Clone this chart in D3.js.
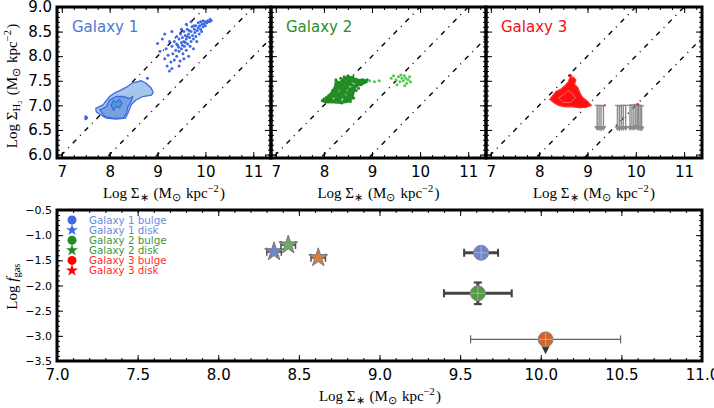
<!DOCTYPE html>
<html><head><meta charset="utf-8">
<script src="https://cdn.jsdelivr.net/npm/d3@7"></script>
<style>body{margin:0;background:#fff}</style>
</head><body><svg id="c" width="714" height="408"></svg>
<script>
// ---------------- DATA ----------------
const panelNames = ["Galaxy 1", "Galaxy 2", "Galaxy 3"];
const xTicksTop = [7, 8, 9, 10, 11];
const yTicksTop = [6.0, 6.5, 7.0, 7.5, 8.0, 8.5, 9.0];
const xTicksBottom = [7.0, 7.5, 8.0, 8.5, 9.0, 9.5, 10.0, 10.5, 11.0];
const yTicksBottom = [-3.5, -3.0, -2.5, -2.0, -1.5, -1.0, -0.5];
const depletionOffsets = [1, 2, 3]; // lines: y = x - offset

// Galaxy 1 scatter points
const g1Points = [[9.0,8.26],[9.05,8.1],[9.1,8.35],[9.15,7.95],[9.18,8.15],[9.2,7.8],[9.22,8.02],[9.25,7.7],[9.28,7.88],[9.3,8.2],[9.3,7.75],[9.32,8.05],[9.35,8.3],[9.35,7.92],[9.38,8.12],[9.4,8.4],[9.4,8.0],[9.42,8.22],[9.45,8.35],[9.45,8.1],[9.47,7.9],[9.48,8.45],[9.5,8.28],[9.5,8.15],[9.52,8.38],[9.53,8.05],[9.55,8.5],[9.55,8.3],[9.56,8.2],[9.58,8.42],[9.6,8.35],[9.6,8.12],[9.62,8.55],[9.63,8.25],[9.65,8.45],[9.65,8.0],[9.67,8.38],[9.68,8.2],[9.7,8.5],[9.7,8.3],[9.72,8.6],[9.73,8.42],[9.75,8.35],[9.75,8.15],[9.77,8.55],[9.78,8.48],[9.8,8.62],[9.8,8.4],[9.82,8.3],[9.83,8.52],[9.85,8.68],[9.85,8.58],[9.87,8.45],[9.88,8.62],[9.9,8.55],[9.9,8.7],[9.92,8.5],[9.93,8.65],[9.95,8.6],[9.95,8.72],[9.97,8.66],[10.0,8.7],[10.0,8.62],[10.03,8.68],[10.05,8.72],[10.08,8.7],[10.1,8.75],[10.12,8.72],[9.6,8.65],[9.7,8.7],[9.5,8.55],[9.4,8.25],[9.25,8.3],[9.15,8.45],[9.3,8.5],[9.55,7.95],[9.45,7.8],[9.62,8.4],[9.66,8.52],[9.58,8.28],[9.76,8.62],[9.52,8.22],[9.44,8.18],[8.79,7.55],[7.5,6.77],[7.5,6.73],[7.52,6.75]];
// Galaxy 1 density contours (outer, middle, inner)
const g1ContourOuter = [[7.71,6.94],[7.86,7.01],[8.0,7.18],[8.1,7.25],[8.21,7.3],[8.35,7.37],[8.48,7.46],[8.66,7.5],[8.76,7.45],[8.87,7.35],[8.91,7.26],[8.87,7.21],[8.69,7.18],[8.55,7.11],[8.45,7.01],[8.38,6.84],[8.33,6.74],[8.14,6.72],[7.93,6.74],[7.83,6.8],[7.72,6.87]];
const g1ContourMid = [[7.79,6.91],[7.93,6.97],[8.0,7.11],[8.14,7.18],[8.28,7.18],[8.41,7.14],[8.48,7.18],[8.45,7.08],[8.38,6.97],[8.35,6.84],[8.28,6.74],[8.07,6.74],[7.9,6.77]];
const g1ContourInner = [[8.03,7.0],[8.08,7.1],[8.14,7.06],[8.2,7.12],[8.26,7.04],[8.2,6.95],[8.14,6.98],[8.08,6.9]];

// Galaxy 2 scatter points (dense clump + outer light points)
const g2Clump = [[7.95,7.08],[8.05,7.17],[8.15,7.26],[8.22,7.38],[8.24,7.52],[8.32,7.48],[8.4,7.55],[8.5,7.6],[8.6,7.57],[8.72,7.53],[8.85,7.53],[8.9,7.47],[8.8,7.42],[8.68,7.38],[8.63,7.27],[8.6,7.13],[8.5,7.06],[8.35,7.04],[8.2,7.05],[8.05,7.05]];
const g2Points = [[7.97,7.1],[8.0,7.13],[8.03,7.08],[8.05,7.16],[8.08,7.12],[8.1,7.2],[8.12,7.1],[8.15,7.24],[8.15,7.15],[8.18,7.3],[8.2,7.18],[8.2,7.08],[8.22,7.35],[8.24,7.25],[8.25,7.12],[8.27,7.4],[8.28,7.3],[8.3,7.2],[8.3,7.1],[8.32,7.45],[8.33,7.35],[8.35,7.25],[8.35,7.15],[8.37,7.05],[8.38,7.4],[8.4,7.5],[8.4,7.3],[8.42,7.2],[8.43,7.1],[8.45,7.45],[8.45,7.35],[8.47,7.25],[8.48,7.55],[8.5,7.4],[8.5,7.15],[8.52,7.3],[8.53,7.5],[8.55,7.2],[8.55,7.08],[8.57,7.42],[8.58,7.35],[8.6,7.55],[8.6,7.25],[8.62,7.15],[8.63,7.48],[8.65,7.38],[8.67,7.3],[8.68,7.52],[8.7,7.45],[8.72,7.35],[8.75,7.5],[8.77,7.42],[8.8,7.52],[8.82,7.46],[8.85,7.5],[8.88,7.48],[8.9,7.52],[8.42,7.58],[8.25,7.52],[8.35,7.55],[8.5,7.6],[8.6,7.58]];
const g2Holes = [[8.3,7.3],[8.45,7.22],[8.55,7.38],[8.38,7.12],[8.62,7.45],[8.2,7.15],[8.5,7.3]];
const g2Outer = [[8.95,7.5],[9.05,7.48],[9.15,7.5],[9.4,7.55],[9.45,7.6],[9.5,7.52],[9.55,7.58],[9.58,7.48],[9.6,7.62],[9.62,7.55],[9.65,7.5],[9.67,7.6],[9.7,7.55],[9.72,7.45],[9.75,7.52],[9.78,7.58],[9.8,7.48],[9.52,7.42],[9.68,7.4]];

// Galaxy 3 contour and upper limits
const g3Contour = [[8.22,7.12],[8.28,7.2],[8.35,7.28],[8.45,7.33],[8.53,7.4],[8.6,7.47],[8.63,7.55],[8.7,7.58],[8.76,7.52],[8.73,7.43],[8.8,7.36],[8.84,7.26],[8.9,7.16],[8.98,7.1],[9.08,7.0],[9.0,6.97],[8.85,6.95],[8.7,6.97],[8.55,6.97],[8.4,7.0],[8.3,7.06]];
const g3ContourInner = [[8.4,7.15],[8.5,7.22],[8.6,7.3],[8.68,7.25],[8.75,7.15],[8.65,7.06],[8.5,7.06]];
const g3LimitX = [9.2, 9.24, 9.28, 9.33, 9.62, 9.66, 9.7, 9.74, 9.79, 9.88, 9.92, 9.96, 10.0, 10.03, 10.06, 10.09, 10.12];
const g3LimitY = [7.0, 7.0, 6.99, 7.0, 7.0, 6.99, 7.0, 7.0, 7.0, 7.0, 7.01, 7.0, 7.02, 7.01, 7.0, 7.0, 6.99];
const g3LimitLength = 0.52;

// Bottom panel
const bulgeX = [9.63, 9.61, 10.03];
const bulgeY = [-1.35, -2.155, -3.07];
const bulgeXerr = [0.105, 0.21, 0.465];
const bulgeYerr = [0, 0.215, 0];
const bulgeUpperLimit = [false, false, true];
const diskX = [8.346, 8.434, 8.62];
const diskY = [-1.33, -1.195, -1.448];
const diskXerr = [0.045, 0.045, 0.045];
const legendLabels = ["Galaxy 1 bulge", "Galaxy 1 disk", "Galaxy 2 bulge", "Galaxy 2 disk", "Galaxy 3 bulge", "Galaxy 3 disk"];

// ---------------- STYLE / LAYOUT ----------------
const galColors = ["#4169e1", "#228b22", "#ff0000"];
const labelColors = ["#4a78d8", "#2e8b2e", "#f01010"];
const legendText = ["#6a8ae0", "#3d963d", "#ff2d2d"];
const bulgeFill = ["#6f85cf", "#4f9a42", "#d2652c"];
const diskFill = ["#7084c8", "#6cab62", "#d97c48"];

const svg = d3.select("#c");
const topPanels = [{l:57, r:271}, {l:271, r:486}, {l:486, r:702}];
const topT = 7, topB = 158;
const botL = 57, botR = 702, botT = 210, botB = 361;

function mathLabel(sel, parts, size) {
  parts.forEach(p => {
    const ts = sel.append("tspan").text(p.t);
    if (p.i) ts.attr("font-style", "italic");
    if (p.s === "sub") ts.attr("dy", "0.3em").attr("font-size", size*0.7);
    else if (p.s === "sup") ts.attr("dy", "-0.55em").attr("font-size", size*0.7);
    if (p.s) {
      sel.append("tspan").text("\u200a").attr("dy", p.s === "sub" ? "-0.21em" : "0.385em");
    }
  });
}
const sigmaStarParts = [{t:"Log Σ"},{t:"∗",s:"sub"},{t:" (M"},{t:"⊙",s:"sub"},{t:" kpc"},{t:"−2",s:"sup"},{t:")"}];

function drawAxes(g, x, y, o) {
  const [x0, x1] = x.range(), [y0, y1] = y.range();
  const tickG = g.append("g").attr("class", "ticks");
  const addAxis = (axis, transform) => {
    const a = tickG.append("g").attr("transform", transform).call(axis);
    a.select(".domain").remove();
    a.selectAll("line").attr("stroke", "#000").attr("stroke-width", 1);
    a.selectAll("text").attr("font-family", "DejaVu Sans").attr("fill", "#000");
    return a;
  };
  const bx = addAxis(d3.axisBottom(x).tickValues(o.xMaj).tickSizeInner(-6).tickSizeOuter(0).tickPadding(o.xPad).tickFormat(o.showX ? o.xFmt : ""), `translate(0,${y0})`);
  bx.selectAll("text").attr("font-size", o.xFont);
  addAxis(d3.axisBottom(x).tickValues(o.xMin).tickSize(-3).tickFormat(""), `translate(0,${y0})`);
  addAxis(d3.axisTop(x).tickValues(o.xMaj).tickSize(-6).tickFormat(""), `translate(0,${y1})`);
  addAxis(d3.axisTop(x).tickValues(o.xMin).tickSize(-3).tickFormat(""), `translate(0,${y1})`);
  const ly = addAxis(d3.axisLeft(y).tickValues(o.yMaj).tickSizeInner(-6).tickSizeOuter(0).tickPadding(o.yPad).tickFormat(o.showY ? o.yFmt : ""), `translate(${x0},0)`);
  ly.selectAll("text").attr("font-size", o.yFont);
  addAxis(d3.axisLeft(y).tickValues(o.yMin).tickSize(-3).tickFormat(""), `translate(${x0},0)`);
  addAxis(d3.axisRight(y).tickValues(o.yMaj).tickSize(-6).tickFormat(""), `translate(${x1},0)`);
  addAxis(d3.axisRight(y).tickValues(o.yMin).tickSize(-3).tickFormat(""), `translate(${x1},0)`);
}
function frame(g, x0, y0, x1, y1) {
  g.append("rect").attr("x", x0).attr("y", y0).attr("width", x1-x0).attr("height", y1-y0)
    .attr("fill", "none").attr("stroke", "#000").attr("stroke-width", 3);
}
const range = (a, b, s) => d3.range(Math.round((b-a)/s)+1).map(i => +(a + i*s).toFixed(3));

// ---------------- TOP PANELS ----------------
const xDomTop = [6.9, 11.37], yDomTop = [5.93, 9.0];
const yTop = d3.scaleLinear().domain(yDomTop).range([topB, topT]);
const topX = topPanels.map(p => d3.scaleLinear().domain(xDomTop).range([p.l, p.r]));

topPanels.forEach((p, i) => {
  const x = topX[i];
  const g = svg.append("g");
  const cid = "clip" + i;
  svg.append("clipPath").attr("id", cid).append("rect")
    .attr("x", p.l).attr("y", topT).attr("width", p.r-p.l).attr("height", topB-topT);
  const pg = g.append("g").attr("clip-path", `url(#${cid})`);
  depletionOffsets.forEach(off => {
    pg.append("line")
      .attr("x1", x(5)).attr("y1", yTop(5-off))
      .attr("x2", x(13)).attr("y2", yTop(13-off))
      .attr("stroke", "#000").attr("stroke-width", 1.4)
      .attr("stroke-dasharray", "5,5.5,1,5.5");
  });
  const line = d3.line().x(d => x(d[0])).y(d => yTop(d[1])).curve(d3.curveLinearClosed);
  if (i === 0) {
    pg.append("path").attr("d", line(g1ContourOuter)).attr("fill", "#a6c6ee").attr("stroke", "#4169e1").attr("stroke-width", 1.3);
    pg.append("path").attr("d", line(g1ContourMid)).attr("fill", "#74a2e2").attr("stroke", "#4169e1").attr("stroke-width", 1.3);
    pg.append("path").attr("d", line(g1ContourInner)).attr("fill", "#4f9ccc").attr("stroke", "#4169e1").attr("stroke-width", 1.3);
    pg.selectAll("circle.p").data(g1Points).join("circle")
      .attr("cx", d => x(d[0])).attr("cy", d => yTop(d[1])).attr("r", 1.5).attr("fill", "#4169e1");
  } else if (i === 1) {
    pg.append("path").attr("d", line(g2Clump)).attr("fill", "#2a8f2a").attr("stroke", "#228b22").attr("stroke-width", 1);
    pg.selectAll("circle.h").data(g2Holes).join("circle")
      .attr("cx", d => x(d[0])).attr("cy", d => yTop(d[1])).attr("r", 1.4).attr("fill", "#8fd08f");
    pg.selectAll("circle.p").data(g2Points).join("circle")
      .attr("cx", d => x(d[0])).attr("cy", d => yTop(d[1])).attr("r", 1.5).attr("fill", "#1f8a1f");
    pg.selectAll("circle.q").data(g2Outer).join("circle")
      .attr("cx", d => x(d[0])).attr("cy", d => yTop(d[1])).attr("r", 1.5).attr("fill", "#4fc84f");
  } else {
    pg.append("path").attr("d", line(g3Contour)).attr("fill", "#ff1010").attr("stroke", "#ff3030").attr("stroke-width", 1.2);
    pg.append("path").attr("d", line(g3ContourInner)).attr("fill", "none").attr("stroke", "#ff6a6a").attr("stroke-width", 0.9);
    pg.append("circle").attr("cx", x(8.64)).attr("cy", yTop(7.6)).attr("r", 1.8).attr("fill", "#ff0000");
    g3LimitX.forEach((lx, k) => {
      const ly = g3LimitY[k];
      const xp = x(lx), yA = yTop(ly), yBt = yTop(ly - g3LimitLength);
      pg.append("line").attr("x1", xp).attr("x2", xp).attr("y1", yA).attr("y2", yBt - 5)
        .attr("stroke", "#8a8a8a").attr("stroke-width", 1.4);
      pg.append("path").attr("d", `M${xp-3},${yBt-5}L${xp+3},${yBt-5}L${xp},${yBt}Z`).attr("fill", "#8a8a8a");
      pg.append("line").attr("x1", xp-2.5).attr("x2", xp+2.5).attr("y1", yA).attr("y2", yA)
        .attr("stroke", "#8a8a8a").attr("stroke-width", 1.2);
    });
    pg.append("circle").attr("cx", x(10.04)).attr("cy", yTop(7.02)).attr("r", 1.3).attr("fill", "#e03030");
    pg.append("circle").attr("cx", x(9.36)).attr("cy", yTop(7.0)).attr("r", 1.1).attr("fill", "#e03030");
  }
  drawAxes(g, x, yTop, {
    xMaj: xTicksTop, xMin: range(7, 11.25, 0.25), yMaj: yTicksTop, yMin: range(6.0, 9.0, 0.1),
    showX: true, showY: i === 0, xFmt: d3.format("d"), yFmt: d3.format(".1f"),
    xPad: 8, yPad: 5, xFont: 15, yFont: 15
  });
  frame(g, p.l, topT, p.r, topB);
  g.append("text").attr("x", p.l + 15).attr("y", 32).attr("font-family", "DejaVu Sans")
    .attr("font-size", 15).attr("fill", labelColors[i]).text(panelNames[i]);
  const xl = g.append("text").attr("x", (p.l + p.r)/2).attr("y", 198).attr("text-anchor", "middle")
    .attr("font-family", "Liberation Serif").attr("font-size", 15);
  mathLabel(xl, sigmaStarParts, 15);
});
const yl = svg.append("text").attr("transform", "translate(17,86) rotate(-90)").attr("text-anchor", "middle")
  .attr("font-family", "Liberation Serif").attr("font-size", 15);
mathLabel(yl, [{t:"Log Σ"},{t:"H₂",s:"sub"},{t:" (M"},{t:"⊙",s:"sub"},{t:" kpc"},{t:"−2",s:"sup"},{t:")"}], 15);

// ---------------- BOTTOM PANEL ----------------
const xB = d3.scaleLinear().domain([7, 11]).range([botL, botR]);
const yB = d3.scaleLinear().domain([-3.5, -0.5]).range([botB, botT]);
const gb = svg.append("g");
drawAxes(gb, xB, yB, {
  xMaj: xTicksBottom, xMin: range(7, 11, 0.1), yMaj: yTicksBottom, yMin: range(-3.5, -0.5, 0.1),
  showX: true, showY: true, xFmt: d3.format(".1f"), yFmt: d3.format(".1f"),
  xPad: 8, yPad: 5, xFont: 15, yFont: 11
});
const pb = gb.append("g");

function errbar(xv, yv, xe, ye, lw, col, cap) {
  if (xe > 0) {
    pb.append("line").attr("x1", xB(xv-xe)).attr("x2", xB(xv+xe)).attr("y1", yB(yv)).attr("y2", yB(yv)).attr("stroke", col).attr("stroke-width", lw);
    [xv-xe, xv+xe].forEach(c => pb.append("line").attr("x1", xB(c)).attr("x2", xB(c)).attr("y1", yB(yv)-cap).attr("y2", yB(yv)+cap).attr("stroke", col).attr("stroke-width", Math.max(1.2, lw*0.7)));
  }
  if (ye > 0) {
    pb.append("line").attr("x1", xB(xv)).attr("x2", xB(xv)).attr("y1", yB(yv-ye)).attr("y2", yB(yv+ye)).attr("stroke", col).attr("stroke-width", lw);
    [yv-ye, yv+ye].forEach(c => pb.append("line").attr("x1", xB(xv)-cap).attr("x2", xB(xv)+cap).attr("y1", yB(c)).attr("y2", yB(c)).attr("stroke", col).attr("stroke-width", Math.max(1.2, lw*0.7)));
  }
}
const star = d3.symbol().type(d3.symbolStar);
diskX.forEach((dx, i) => {
  errbar(dx, diskY[i], diskXerr[i], 0, 2.2, "#555", 4);
  pb.append("path").attr("d", star.size(110)()).attr("transform", `translate(${xB(dx)},${yB(diskY[i])})`)
    .attr("fill", diskFill[i]).attr("stroke", "#777").attr("stroke-width", 1);
});
bulgeX.forEach((bx, i) => {
  const thin = bulgeUpperLimit[i];
  errbar(bx, bulgeY[i], bulgeXerr[i], bulgeYerr[i], thin ? 1.3 : 3, thin ? "#666" : "#444", 4);
  const xp = xB(bx), yp = yB(bulgeY[i]);
  if (thin) {
    pb.append("line").attr("x1", xp).attr("x2", xp).attr("y1", yp).attr("y2", yp + 9).attr("stroke", "#333").attr("stroke-width", 1.5);
    pb.append("path").attr("d", `M${xp-4},${yp+7}L${xp+4},${yp+7}L${xp},${yp+15}Z`).attr("fill", "#333");
  }
  pb.append("circle").attr("cx", xp).attr("cy", yp).attr("r", 7.5)
    .attr("fill", bulgeFill[i]).attr("stroke", "#888").attr("stroke-width", 1);
  pb.append("line").attr("x1", xp-7).attr("x2", xp+7).attr("y1", yp).attr("y2", yp).attr("stroke", "#fff").attr("stroke-opacity", 0.35).attr("stroke-width", 1);
  pb.append("line").attr("x1", xp).attr("x2", xp).attr("y1", yp-7).attr("y2", yp+7).attr("stroke", "#fff").attr("stroke-opacity", 0.35).attr("stroke-width", 1);
});
const lg = gb.append("g");
legendLabels.forEach((t, k) => {
  const gi = Math.floor(k/2), isStar = k % 2 === 1;
  const yy = 220 + k*10.1;
  if (isStar) lg.append("path").attr("d", star.size(45)()).attr("transform", `translate(72,${yy})`).attr("fill", galColors[gi]);
  else lg.append("circle").attr("cx", 72).attr("cy", yy).attr("r", 4.5).attr("fill", galColors[gi]);
  lg.append("text").attr("x", 89).attr("y", yy).attr("dy", "0.36em").attr("font-family", "DejaVu Sans")
    .attr("font-size", 10.3).attr("fill", legendText[gi]).text(t);
});
frame(gb, botL, botT, botR, botB);
const bxl = svg.append("text").attr("x", 380).attr("y", 401).attr("text-anchor", "middle")
  .attr("font-family", "Liberation Serif").attr("font-size", 15);
mathLabel(bxl, sigmaStarParts, 15);
const byl = svg.append("text").attr("transform", "translate(17,286) rotate(-90)").attr("text-anchor", "middle")
  .attr("font-family", "Liberation Serif").attr("font-size", 15);
mathLabel(byl, [{t:"Log "},{t:"f", i:true},{t:"gas", s:"sub"}], 15);
</script></body></html>
